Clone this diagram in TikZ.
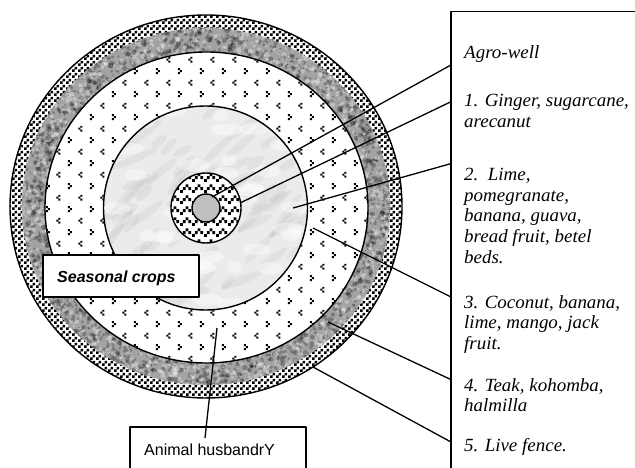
\documentclass[tikz,border=0pt]{standalone}
\usepackage{fontspec}
\setmainfont{Liberation Serif}
\newfontfamily\labfont[FakeStretch=1.02]{Liberation Serif}
\newfontfamily\arialf{Liberation Sans}
\usetikzlibrary{patterns}
\pgfdeclarepatternformonly{chk}{\pgfpointorigin}{\pgfqpoint{6pt}{6pt}}{\pgfqpoint{6pt}{6pt}}{%
  \pgfpathrectangle{\pgfpointorigin}{\pgfqpoint{3pt}{3pt}}%
  \pgfpathrectangle{\pgfqpoint{3pt}{3pt}}{\pgfqpoint{3pt}{3pt}}%
  \pgfusepath{fill}}
\pgfdeclarepatternformonly{chev}{\pgfpointorigin}{\pgfqpoint{22pt}{23.4pt}}{\pgfqpoint{22pt}{23.4pt}}{%
  \pgfpathrectangle{\pgfqpoint{2pt}{2pt}}{\pgfqpoint{2pt}{2pt}}%
  \pgfpathrectangle{\pgfqpoint{4pt}{4pt}}{\pgfqpoint{2pt}{2pt}}%
  \pgfpathrectangle{\pgfqpoint{2pt}{6pt}}{\pgfqpoint{2pt}{2pt}}%
  \pgfpathrectangle{\pgfqpoint{15pt}{13.7pt}}{\pgfqpoint{2pt}{2pt}}%
  \pgfpathrectangle{\pgfqpoint{13pt}{15.7pt}}{\pgfqpoint{2pt}{2pt}}%
  \pgfpathrectangle{\pgfqpoint{15pt}{17.7pt}}{\pgfqpoint{2pt}{2pt}}%
  \pgfusepath{fill}}
\pgfdeclarepatternformonly{zz}{\pgfpointorigin}{\pgfqpoint{12pt}{10.5pt}}{\pgfqpoint{12pt}{10.5pt}}{%
  \pgfpathrectangle{\pgfqpoint{0pt}{0pt}}{\pgfqpoint{3pt}{3pt}}%
  \pgfpathrectangle{\pgfqpoint{3pt}{3pt}}{\pgfqpoint{3pt}{3pt}}%
  \pgfpathrectangle{\pgfqpoint{6pt}{6pt}}{\pgfqpoint{3pt}{3pt}}%
  \pgfpathrectangle{\pgfqpoint{9pt}{3pt}}{\pgfqpoint{3pt}{3pt}}%
  \pgfusepath{fill}}
\begin{document}
\begin{tikzpicture}[x=1pt,y=-1pt,line join=round,
  outline/.style={draw=black,line width=1.4pt},
  leader/.style={draw=black,line width=1.3pt},
  boxline/.style={draw=black,line width=1.4pt},
  labtxt/.style={anchor=base west,inner sep=0pt,font=\labfont\itshape\fontsize{18.6}{20}\selectfont},
  sanstxt/.style={anchor=base west,inner sep=0pt,font=\arialf\fontsize{16}{18}\selectfont},
  sansbold/.style={anchor=base west,inner sep=0pt,font=\arialf\bfseries\itshape\fontsize{16}{18}\selectfont}]
\useasboundingbox (0,0) rectangle (635,468);
\clip (0,0) rectangle (635,468);
\fill[white] (0,0) rectangle (635,468);

% outer checker ring
\fill[white] (206,206.5) ellipse [x radius=196,y radius=191.5];
\fill[pattern=chk,pattern color=black,even odd rule] (206,206.5) ellipse [x radius=196,y radius=191.5]
   (206,206.5) ellipse [x radius=184.3,y radius=178.5];

% grey mottled ring
\begin{scope}[even odd rule]
  \clip (206,206.5) ellipse [x radius=184.3,y radius=178.5]
     (206.5,207.5) ellipse [x radius=161.5,y radius=155.5];
  \fill[gray!72] (0,0) rectangle (420,420);
  \pgfmathsetseed{11}
  \foreach \i in {1,...,1600}{
    \pgfmathsetmacro\ang{360*rnd}
    \pgfmathsetmacro\rr{0.86+0.16*rnd}
    \pgfmathsetmacro\sz{0.9+1.8*rnd}
    \fill[black,opacity=0.25] ({206+184*\rr*cos(\ang)},{207+179*\rr*sin(\ang)}) circle (\sz);
  }
  \foreach \i in {1,...,1200}{
    \pgfmathsetmacro\ang{360*rnd}
    \pgfmathsetmacro\rr{0.86+0.16*rnd}
    \pgfmathsetmacro\sz{0.9+1.6*rnd}
    \fill[white,opacity=0.3] ({206+184*\rr*cos(\ang)},{207+179*\rr*sin(\ang)}) circle (\sz);
  }
\end{scope}

% dotted ring
\fill[white] (206.5,207.5) ellipse [x radius=161.5,y radius=155.5];
\fill[pattern=chev,pattern color=black] (206.5,207.5) ellipse [x radius=161.5,y radius=155.5];

% marble disc
\fill[gray!16] (205.5,208) circle (102);
\begin{scope}
  \clip (205.5,208) circle (102);
  \pgfmathsetseed{5}
  \foreach \i in {1,...,80}{
    \pgfmathsetmacro\xx{105+200*rnd}
    \pgfmathsetmacro\yy{108+200*rnd}
    \pgfmathsetmacro\rot{20+40*rnd}
    \pgfmathsetmacro\la{8+18*rnd}
    \fill[gray,opacity=0.09,rotate around={\rot:(\xx,\yy)}] (\xx,\yy) ellipse [x radius=\la,y radius=4];
  }
  \foreach \i in {1,...,50}{
    \pgfmathsetmacro\xx{105+200*rnd}
    \pgfmathsetmacro\yy{108+200*rnd}
    \pgfmathsetmacro\la{6+14*rnd}
    \fill[white,opacity=0.4] (\xx,\yy) ellipse [x radius=\la,y radius=6];
  }
\end{scope}

% zigzag ring and centre
\fill[white] (206,208) circle (35);
\fill[pattern=zz,pattern color=black] (206,208) circle (35);
\fill[gray!50] (206,208) circle (14);

% outlines
\draw[outline] (206,206.5) ellipse [x radius=196,y radius=191.5];
\draw[outline] (206.5,207.5) ellipse [x radius=161.5,y radius=155.5];
\draw[outline] (205.5,208) circle (102);
\draw[outline] (206,208) circle (35);
\draw[outline] (206,208) circle (14);

% right label box
\draw[boxline] (451,480) -- (451,11.7) -- (640,11.7);
\coordinate (b0) at (451,65);
\coordinate (b1) at (451,101.7);
\coordinate (b2) at (451,163.6);
\coordinate (b3) at (451,297);
\coordinate (b4) at (451,379.6);
\coordinate (b5) at (451,442);
\coordinate (p0) at (212,197);
\coordinate (p1) at (240,203);
\coordinate (p2) at (293,208);
\coordinate (p3) at (313,228);
\coordinate (p4) at (328,322);
\coordinate (p5) at (313,367);
\foreach \k in {0,...,5}{\draw[leader] (b\k) -- (p\k);}

\node[labtxt] (t0) at (464,58.3) {Agro-well};
\node[labtxt] (t1a) at (464,106.7) {1. Ginger, sugarcane,};
\node[labtxt] (t1b) at (464,127.5) {arecanut};
\node[labtxt] (t2a) at (464,181) {2.\ \ Lime,};
\node[labtxt] (t2b) at (464,201.5) {pomegranate,};
\node[labtxt] (t2c) at (464,222) {banana, guava,};
\node[labtxt] (t2d) at (464,242.5) {bread fruit, betel};
\node[labtxt] (t2e) at (464,263) {beds.};
\node[labtxt] (t3a) at (464,308) {3. Coconut, banana,};
\node[labtxt] (t3b) at (464,328.5) {lime, mango, jack};
\node[labtxt] (t3c) at (464,349) {fruit.};
\node[labtxt] (t4a) at (464,391) {4. Teak, kohomba,};
\node[labtxt] (t4b) at (464,411.5) {halmilla};
\node[labtxt] (t5) at (464,451.7) {5. Live fence.};

% seasonal crops box
\draw[boxline,line width=1.8pt,fill=white] (43,255) rectangle (199,297);
\node[sansbold] (sc) at (57,282) {Seasonal crops};

% animal husbandry box
\draw[boxline,fill=white] (130,427) rectangle (306,480);
\node[sanstxt] (ah) at (144,455.5) {Animal husbandrY};
\coordinate (q0) at (217,328);
\coordinate (q1) at (205,438);
\draw[leader] (q0) -- (q1);
\end{tikzpicture}
\end{document}
